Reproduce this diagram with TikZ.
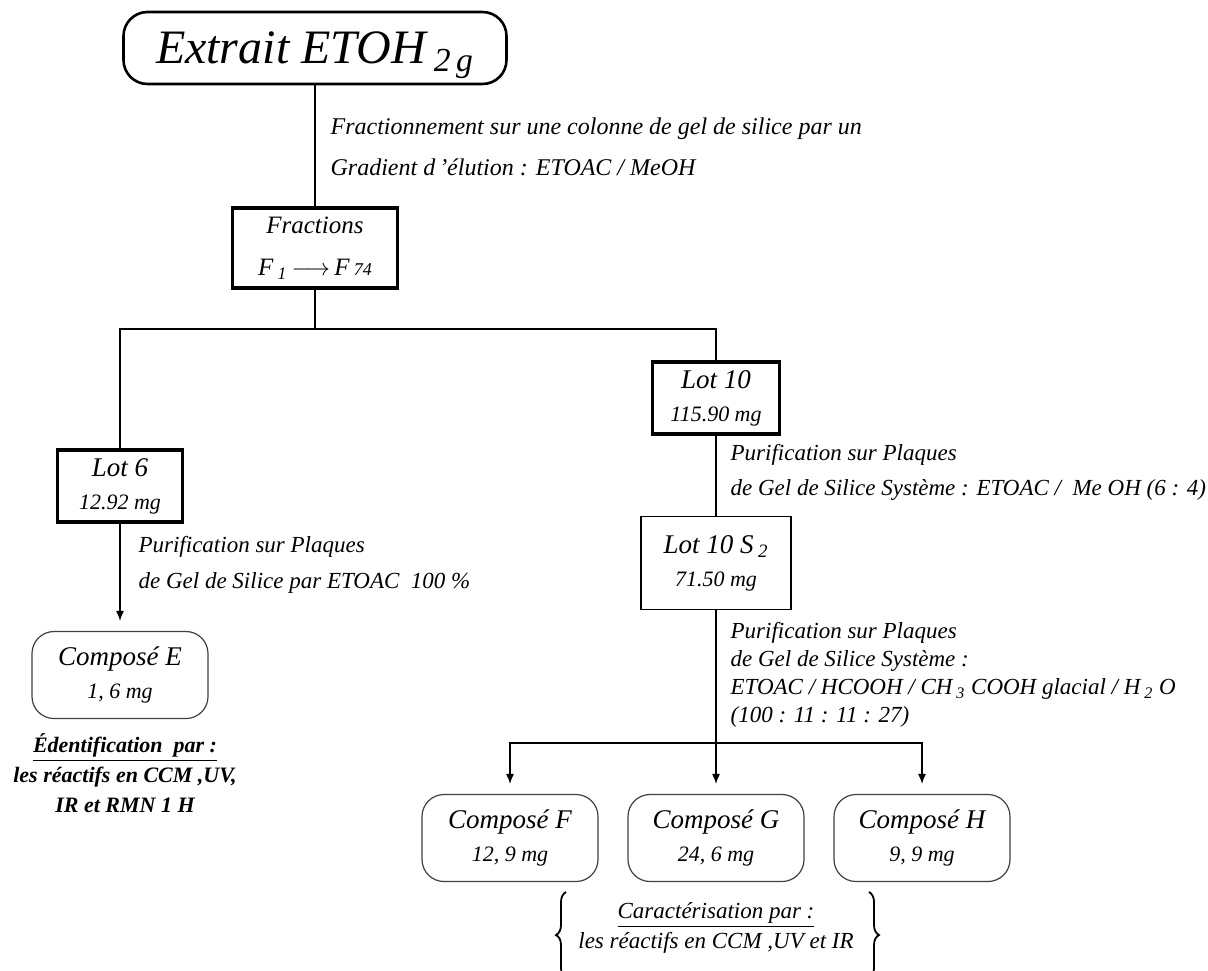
\documentclass[tikz,border=0pt]{standalone}
\usepackage{tikz}
\usepackage{amsmath}
\usepackage{fontspec}
\setmainfont{Liberation Serif}
\usetikzlibrary{arrows.meta,decorations.pathreplacing}

\tikzset{
  boite/.style={draw, line width=1.6pt, align=center, inner sep=2pt,
                font=\fontsize{11}{16.5}\selectfont\itshape},
  lot/.style={draw, line width=0.6pt, align=center, font=\fontsize{11}{16.5}\selectfont\itshape},
  compose/.style={draw=black!75, line width=0.6pt, rounded corners=11pt, align=center,
                  minimum width=88pt, minimum height=43.5pt, font=\fontsize{11}{16.5}\selectfont\itshape},
  note/.style={anchor=west, align=left, inner sep=0pt},
  fleche/.style={-{Latex[length=5pt,width=4pt]}, shorten >=5pt},
}

\newcommand{\gros}[1]{{\fontsize{13.5}{16.5}\selectfont #1}}
\newcommand{\petit}[1]{{\fontsize{11}{16.5}\selectfont #1}}
\newcommand{\ind}[1]{\textsubscript{#1}}

\begin{document}
\begin{tikzpicture}[x=0.5pt, y=-0.5pt, font=\itshape, line width=0.6pt]

\useasboundingbox (0,0) rectangle (1208,970);

% extrait de depart et fractions
\node[draw, line width=1.3pt, rounded corners=12pt, minimum width=191.5pt, minimum height=36pt,
      text depth=0pt, font=\fontsize{24}{28}\selectfont\itshape] (extrait) at (315,48) {Extrait ETOH\,\ind{2\,g}};

\node[boite, minimum width=82.5pt, minimum height=40pt, font=\fontsize{12.5}{21}\selectfont\itshape]
      (fractions) at (315,248) {Fractions\\ F\,\ind{1}\,$\longrightarrow$\,F\,{\small 74}};

% les lots
\node[boite, minimum width=62.5pt, minimum height=36pt] (lot6) at (120,486) {\gros{Lot 6}\\ \petit{12.92 mg}};
\node[boite, minimum width=63.5pt, minimum height=36pt] (lot10) at (716,398) {\gros{Lot 10}\\ \petit{115.90 mg}};
\node[lot, minimum width=75pt, minimum height=46.5pt] (lot10s) at (716,563) {\gros{Lot 10 S\,\ind{2}}\\ \petit{71.50 mg}};

% les composes
\node[compose] (cE) at (120,675) {\gros{Composé E}\\ \petit{1, 6 mg}};
\node[compose] (cF) at (510,838) {\gros{Composé F}\\ \petit{12, 9 mg}};
\node[compose] (cG) at (716,838) {\gros{Composé G}\\ \petit{24, 6 mg}};
\node[compose] (cH) at (922,838) {\gros{Composé H}\\ \petit{9, 9 mg}};

% textes des etapes
\node[note, font=\fontsize{12}{20.5}\selectfont\itshape] (txt1) at (330,147)
  {Fractionnement sur une colonne de gel de silice par un\\ Gradient d\,'élution : ETOAC / MeOH};
\node[note, font=\fontsize{11.5}{18}\selectfont\itshape] (txt2) at (138,565)
  {Purification sur Plaques\\ de Gel de Silice par ETOAC\ \ 100 \%};
\node[note, font=\fontsize{11.5}{17.5}\selectfont\itshape] (txt3) at (730,472)
  {Purification sur Plaques\\ de Gel de Silice Système : ETOAC / \ Me OH (6 : 4)};
\node[note, font=\fontsize{11.5}{14}\selectfont\itshape] (txt4) at (730,675)
  {Purification sur Plaques\\ de Gel de Silice Système :\\
   ETOAC / HCOOH / CH\,\ind{3} COOH glacial / H\,\ind{2} O\\ (100 : 11 : 11 : 27)};

\node[align=center, font=\fontsize{11}{15}\selectfont\bfseries\itshape] (ident) at (125,773)
  {\underline{Édentification\ \ par :}\\ les réactifs en CCM ,UV,\\ IR et RMN 1 H};
\node[align=center, font=\fontsize{11.5}{15}\selectfont\itshape] (carac) at (716,928)
  {\underline{Caractérisation par :}\\ les réactifs en CCM ,UV et IR};

% accolades
\draw[decorate, decoration={brace, amplitude=5pt}, line width=0.9pt] (566,978) -- (566,892);
\draw[decorate, decoration={brace, amplitude=5pt}, line width=0.9pt] (869,892) -- (869,978);

% liaisons
\coordinate (split) at (315,329);
\coordinate (fork) at (716,743);

\draw (extrait) -- (fractions);
\draw (fractions) -- (split);
\draw (lot6) |- (split) -| (lot10);
\draw[fleche] (lot6) -- (cE);
\draw (lot10) -- (lot10s);
\draw[fleche] (lot10s) -- (cG);
\draw[fleche] (fork) -| (cF);
\draw[fleche] (fork) -| (cH);

\end{tikzpicture}
\end{document}
